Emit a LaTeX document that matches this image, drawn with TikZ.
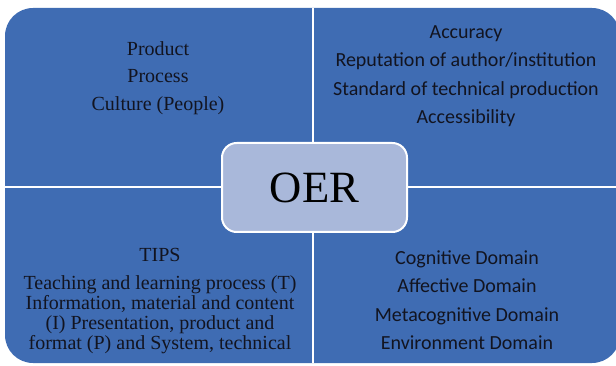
\documentclass[tikz,border=0pt]{standalone}
\usepackage{fontspec}
\setmainfont{Liberation Serif}
\newfontfamily\calibrifont{Carlito}
\usepackage{tikz}
\definecolor{oerblue}{RGB}{63,108,179}
\definecolor{oerlight}{RGB}{169,184,218}
\definecolor{oertext}{RGB}{18,20,32}
\tikzstyle{quad} = [fill=oerblue, rounded corners=21pt]
\tikzstyle{gap} = [draw=white, line width=1.5pt]
\tikzstyle{serif} = [text=oertext, align=center, font=\fontsize{15}{20.6}\selectfont]
\tikzstyle{sans} = [text=oertext, align=center, font=\calibrifont\fontsize{15}{21.3}\selectfont]
\tikzstyle{hub} = [draw=white, line width=1.5pt, fill=oerlight, rounded corners=11pt,
  minimum width=138.75pt, minimum height=66.75pt, font=\fontsize{33.5}{40}\selectfont, text=black]

\begin{document}
\begin{tikzpicture}[x=0.75pt, y=-0.75pt]
      \useasboundingbox (0,0) rectangle (616,366);
      \clip (0,0) rectangle (616,366);

      % four panels, split by white gaps
      \fill[quad] (5,8) rectangle (620,363);
      \draw[gap] (312.5,8) -- (312.5,363);
      \draw[gap] (5,187) -- (620,187);

      \node[serif] (product) at (158,78) {Product\\Process\\Culture (People)};
      \node[sans] (quality) at (466,76) {Accuracy\\Reputation of author/institution\\Standard of technical production\\Accessibility};
      \node[serif, font=\fontsize{15}{15}\selectfont] (tips) at (160,301)
        {TIPS\\[6pt]Teaching and learning process (T)\\Information, material and content\\(I) Presentation, product and\\format (P) and System, technical};
      \node[sans] (domain) at (467,300) {Cognitive Domain\\Affective Domain\\Metacognitive Domain\\Environment Domain};

      \node[hub] (oer) at (314.5,187.5) {OER};
    \end{tikzpicture}
\end{document}
